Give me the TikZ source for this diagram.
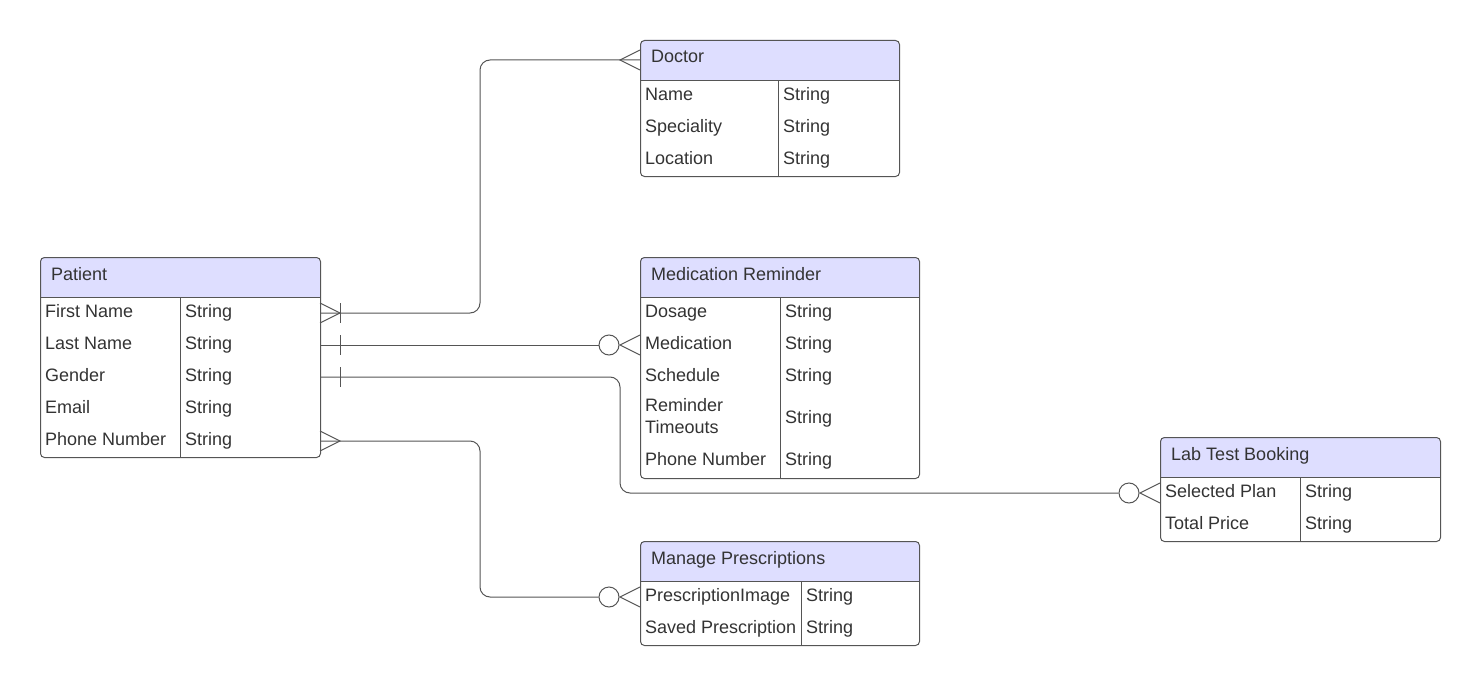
\documentclass[tikz,border=0pt]{standalone}
\usepackage{fontspec}
\setmainfont{Liberation Sans}
\usetikzlibrary{calc}
\definecolor{hdr}{RGB}{222,222,255}
\definecolor{txt}{RGB}{51,51,51}
\definecolor{ln}{RGB}{85,85,85}
\tikzset{
  every node/.style={font=\fontsize{18}{21}\selectfont, text=txt, inner sep=0pt},
  lbl/.style={anchor=base west, yshift=1pt},
  box/.style={draw=ln, line width=1pt, rounded corners=4pt, anchor=north west, inner sep=0pt},
  conn/.style={draw=ln, line width=1pt, rounded corners=10pt},
  mk/.style={draw=ln, line width=1pt},
  zcirc/.style={circle, draw=ln, fill=white, line width=1pt, minimum size=20pt},
  crow/.pic={\draw[mk] (0,-10) -- (20,0) -- (0,10);},
  onebar/.pic={\draw[mk] (0,-10) -- (0,10);},
}
\newcommand\erent[7]{%
  \fill[hdr, rounded corners=4pt] (#2,#3) rectangle ++(#4,40);
  \fill[hdr] (#2,#3+20) rectangle ++(#4,20);
  \node[box, minimum width=#4pt, minimum height=#5pt] (#1) at (#2,#3) {};
  \draw[mk] (#2,#3+40) -- ++(#4,0);
  \draw[mk] (#6,#3+40) -- (#6,#3+#5);
  \node[lbl] (#1-t) at (#2+11,#3+24) {#7};
}
\begin{document}
\begin{tikzpicture}[x=1pt,y=-1pt]
\useasboundingbox (0,0) rectangle (1480,685);

% connection points
\coordinate (pat1) at (320,313);
\coordinate (pat2) at (320,345);
\coordinate (pat3) at (320,377);
\coordinate (pat5) at (320,441);
\coordinate (docin) at (640,60);
\coordinate (medin) at (640,345);
\coordinate (labin) at (1160,493);
\coordinate (mpin) at (640,597);
\coordinate (j1) at (480,60);
\coordinate (j3) at (620,493);
\coordinate (j4) at (480,597);

\node[zcirc] (c2) at (609,345) {};
\node[zcirc] (c3) at (1129,493) {};
\node[zcirc] (c5) at (609,597) {};

% connectors
\draw[conn] (pat1) -| (j1) -- (docin);
\draw[conn] (pat2) -- (c2);
\draw[conn] (pat3) -| (j3) -- (c3);
\draw[conn] (pat5) -| (j4) -- (c5);

% markers
\pic at (pat1) {crow};
\pic at ($(pat1)+(20,0)$) {onebar};
\pic at ($(pat2)+(20,0)$) {onebar};
\pic at ($(pat3)+(20,0)$) {onebar};
\pic at (pat5) {crow};
\pic[xscale=-1] at (docin) {crow};
\pic[xscale=-1] at (medin) {crow};
\pic[xscale=-1] at (labin) {crow};
\pic[xscale=-1] at (mpin) {crow};

% Patient
\erent{patient}{40}{257}{280}{200}{180}{Patient}
\node[lbl] (p1) at (45,318) {First Name};   \node[lbl] (p1s) at (185,318) {String};
\node[lbl] (p2) at (45,350) {Last Name};    \node[lbl] (p2s) at (185,350) {String};
\node[lbl] (p3) at (45,382) {Gender};       \node[lbl] (p3s) at (185,382) {String};
\node[lbl] (p4) at (45,414) {Email};        \node[lbl] (p4s) at (185,414) {String};
\node[lbl] (p5) at (45,446) {Phone Number}; \node[lbl] (p5s) at (185,446) {String};

% Doctor
\erent{doctor}{640}{40}{259}{136}{778}{Doctor}
\node[lbl] (d1) at (645,101) {Name};       \node[lbl] (d1s) at (783,101) {String};
\node[lbl] (d2) at (645,133) {Speciality}; \node[lbl] (d2s) at (783,133) {String};
\node[lbl] (d3) at (645,165) {Location};   \node[lbl] (d3s) at (783,165) {String};

% Medication Reminder
\erent{medrem}{640}{257}{279}{221}{780}{Medication Reminder}
\node[lbl] (m1) at (645,318) {Dosage};      \node[lbl] (m1s) at (785,318) {String};
\node[lbl] (m2) at (645,350) {Medication};  \node[lbl] (m2s) at (785,350) {String};
\node[lbl] (m3) at (645,382) {Schedule};    \node[lbl] (m3s) at (785,382) {String};
\node[lbl] (m4a) at (645,412) {Reminder};
\node[lbl] (m4b) at (645,434) {Timeouts};   \node[lbl] (m4s) at (785,424) {String};
\node[lbl] (m5) at (645,466) {Phone Number};\node[lbl] (m5s) at (785,466) {String};

% Lab Test Booking
\erent{lab}{1160}{437}{280}{104}{1300}{Lab Test Booking}
\node[lbl] (l1) at (1165,498) {Selected Plan}; \node[lbl] (l1s) at (1305,498) {String};
\node[lbl] (l2) at (1165,530) {Total Price};   \node[lbl] (l2s) at (1305,530) {String};

% Manage Prescriptions
\erent{manpres}{640}{541}{279}{104}{801}{Manage Prescriptions}
\node[lbl] (r1) at (645,602) {PrescriptionImage};  \node[lbl] (r1s) at (806,602) {String};
\node[lbl] (r2) at (645,634) {Saved Prescription}; \node[lbl] (r2s) at (806,634) {String};
\end{tikzpicture}
\end{document}
